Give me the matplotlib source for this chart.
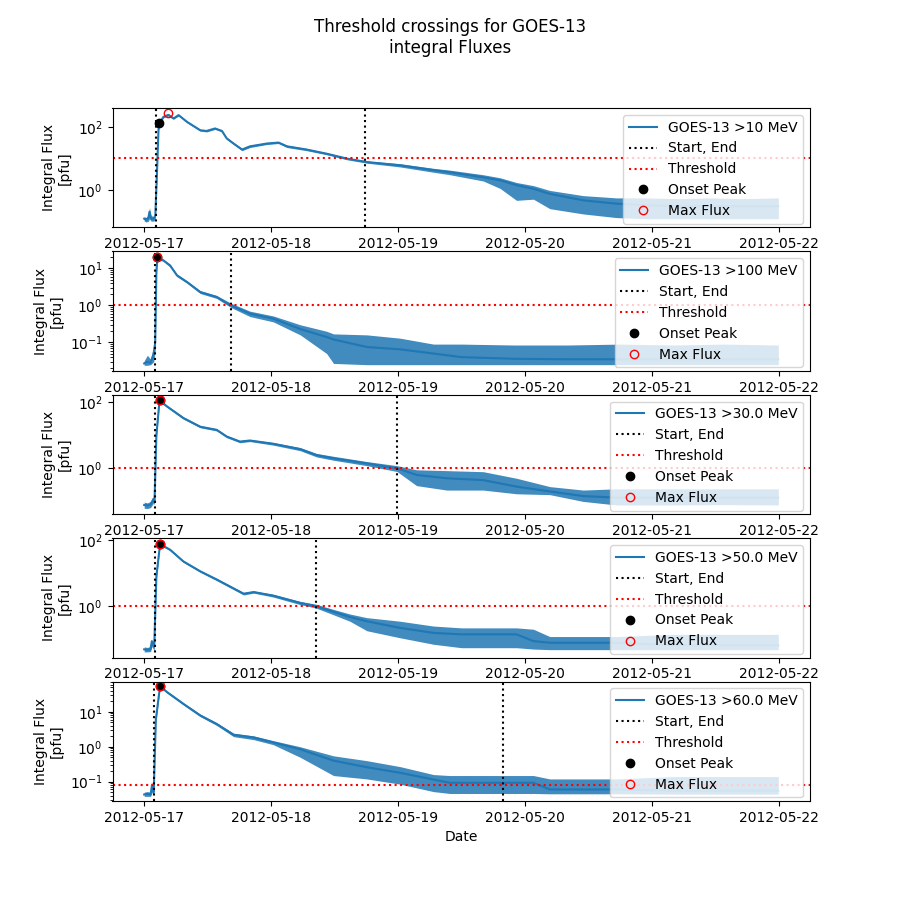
import numpy as np
import pandas as pd
import matplotlib
matplotlib.use("Agg")
import matplotlib.pyplot as plt
from matplotlib.ticker import LogLocator, NullLocator

# GOES-13 integral fluxes, hours after 2012-05-17 00:00
t0 = pd.Timestamp("2012-05-17 00:00")

labels = ["GOES-13 >10 MeV", "GOES-13 >100 MeV", "GOES-13 >30.0 MeV",
          "GOES-13 >50.0 MeV", "GOES-13 >60.0 MeV"]
thresholds = [10.0, 1.0, 1.0, 1.0, 0.078]
start_hr = [2.2, 2.05, 1.95, 2.0, 1.8]
end_hr = [41.7, 16.4, 47.8, 32.5, 67.9]
onset_hr = [2.83, 2.5, 2.9, 3.0, 3.0]
onset_flux = [129, 20, 112, 77, 55]
max_hr = [4.55, 2.5, 2.9, 3.0, 3.0]
max_flux = [268, 20, 112, 77, 55]
ylims = [(0.063, 398), (0.017, 29), (0.041, 166), (0.0275, 117), (0.028, 74)]
every_other_decade = [True, False, True, True, False]

# >10 MeV
p1_hr = [0, 0.4, 0.8, 1.0, 1.3, 1.8, 2.1, 2.4, 2.7, 2.83, 3.65, 4.55, 5.55, 6.5, 8.1,
         10.6, 11.8, 13.4, 14.7, 15.6, 16.9, 18.5, 20, 23.2, 25.4, 27, 30.7, 34.5,
         38.3, 42.1, 48.4, 54.7, 57.8, 64.1, 67.3, 70.4, 73.6, 76.7, 83, 89.3, 95,
         101, 107, 113, 119.9]
p1_mid = [0.12, 0.11, 0.13, 0.2, 0.12, 0.12, 0.15, 3.0, 80, 129, 209, 240, 185, 236,
          144, 78, 74, 89, 74, 43, 29.5, 19, 24, 29.5, 31.6, 24, 19, 14, 9.8, 7.6, 6.0,
          4.2, 3.6, 2.5, 2.0, 1.4, 1.07, 0.74, 0.46, 0.36, 0.32, 0.3, 0.3, 0.3, 0.3]
p1_lo = [0.10, 0.094, 0.10, 0.12, 0.10, 0.10, 0.12, 2.5, 70, 120, 195, 225, 175, 222,
         135, 73, 69, 83, 69, 40, 27.5, 17.5, 22, 27.5, 29.5, 22, 17.5, 13, 9.0, 7.0, 5.3,
         3.6, 3.0, 1.9, 1.1, 0.46, 0.5, 0.25, 0.17, 0.13, 0.12, 0.12, 0.12, 0.12, 0.12]
p1_hi = [0.14, 0.13, 0.16, 0.27, 0.15, 0.14, 0.18, 3.5, 88, 138, 222, 268, 198, 250,
         152, 83, 79, 95, 79, 46, 31.5, 20.5, 26, 31.5, 34, 26, 20.5, 15, 10.6, 8.2, 6.7,
         4.8, 4.2, 3.0, 2.4, 1.7, 1.35, 0.95, 0.65, 0.55, 0.55, 0.52, 0.55, 0.52, 0.55]

# >100 MeV
p2_hr = [0, 0.6, 1.2, 1.8, 2.08, 2.3, 2.5, 3.65, 4.9, 6.2, 8.1, 10.6, 13.7, 16.4, 20,
         24.4, 29.5, 34.5, 35.8, 42.1, 48.4, 54.7, 60, 70, 80, 90, 100, 110, 119.9]
p2_mid = [0.027, 0.03, 0.028, 0.05, 0.1, 8.0, 20, 16.5, 12, 6.5, 4.3, 2.3, 1.7, 1.0,
          0.6, 0.44, 0.23, 0.14, 0.12, 0.075, 0.065, 0.05, 0.04, 0.036, 0.035, 0.035,
          0.035, 0.035, 0.035]
p2_lo = [0.024, 0.024, 0.025, 0.03, 0.06, 6.5, 18, 15.5, 11, 6.0, 4.0, 2.1, 1.55, 0.88,
         0.5, 0.36, 0.16, 0.05, 0.027, 0.025, 0.025, 0.025, 0.025, 0.025, 0.025,
         0.025, 0.025, 0.025, 0.025]
p2_hi = [0.032, 0.045, 0.035, 0.083, 0.15, 9.5, 21, 17.5, 13, 7.0, 4.6, 2.5, 1.85, 1.15,
         0.7, 0.52, 0.3, 0.2, 0.17, 0.16, 0.13, 0.09, 0.09, 0.085, 0.085, 0.09, 0.085,
         0.09, 0.085]

# >30 MeV
p3_hr = [0, 0.6, 1.2, 1.76, 1.95, 2.3, 2.9, 4.3, 7.4, 10.6, 13.7, 15.6, 18.1, 20,
         24.4, 29.5, 32.6, 35.8, 42.1, 47.8, 51.5, 57.2, 64.1, 70.4, 76.7, 83, 89.3,
         100, 110, 119.9]
p3_mid = [0.078, 0.075, 0.08, 0.12, 0.1, 10, 112, 74, 33, 18, 14.5, 9.1, 6.4, 6.9,
          5.5, 3.8, 2.5, 2.0, 1.4, 1.0, 0.63, 0.5, 0.44, 0.28, 0.2, 0.145, 0.13, 0.13,
          0.13, 0.13]
p3_lo = [0.062, 0.061, 0.065, 0.09, 0.08, 8, 104, 69, 30.5, 16.7, 13.4, 8.4, 5.9, 6.4,
         5.0, 3.4, 2.2, 1.75, 1.2, 0.8, 0.3, 0.22, 0.22, 0.17, 0.16, 0.1, 0.078, 0.078,
         0.08, 0.078]
p3_hi = [0.095, 0.09, 0.1, 0.13, 0.12, 12, 114, 79, 35.5, 19.4, 15.6, 9.8, 6.9, 7.4, 6.0,
         4.2, 2.8, 2.3, 1.6, 1.2, 0.9, 0.85, 0.79, 0.5, 0.28, 0.22, 0.24, 0.24,
         0.24, 0.24]

# >50 MeV
p4_hr = [0, 0.6, 1.2, 1.45, 1.9, 2.3, 3.0, 4.9, 7.4, 10.6, 13.7, 18.8, 20.7, 24.4,
         29.5, 32.5, 35.8, 38.9, 42.1, 48.4, 54.7, 60, 70.4, 73.6, 76.7, 89.3, 100,
         110, 119.9]
p4_mid = [0.049, 0.047, 0.05, 0.087, 0.06, 8, 77, 52, 23, 11.5, 6.5, 2.4, 2.7, 2.1,
          1.26, 1.0, 0.68, 0.47, 0.35, 0.22, 0.155, 0.14, 0.14, 0.087, 0.078, 0.078,
          0.065, 0.065, 0.065]
p4_lo = [0.041, 0.041, 0.042, 0.06, 0.045, 6.5, 72, 48.5, 21.5, 10.7, 6.0, 2.2, 2.5, 1.9,
         1.12, 0.88, 0.55, 0.35, 0.18, 0.11, 0.07, 0.055, 0.055, 0.05, 0.048, 0.048,
         0.048, 0.048, 0.048]
p4_hi = [0.058, 0.056, 0.06, 0.09, 0.07, 9.5, 79, 55.5, 24.5, 12.3, 7.0, 2.6, 2.9, 2.3,
         1.4, 1.15, 0.8, 0.58, 0.45, 0.35, 0.25, 0.22, 0.22, 0.2, 0.12, 0.12, 0.14,
         0.14, 0.14]

# >60 MeV
p5_hr = [0, 0.6, 1.2, 1.5, 1.8, 2.2, 3.0, 4.3, 7.4, 10.6, 13.7, 16.9, 20.7, 24.4,
         29.5, 35.8, 42.1, 48.4, 54.7, 57.8, 65, 73.6, 76.7, 89.3, 100, 110, 119.9]
p5_mid = [0.043, 0.045, 0.043, 0.083, 0.05, 6, 55, 37, 17, 7.9, 4.5, 2.2, 1.85, 1.33,
          0.85, 0.4, 0.26, 0.18, 0.115, 0.093, 0.093, 0.093, 0.06, 0.06, 0.055,
          0.055, 0.055]
p5_lo = [0.038, 0.038, 0.038, 0.05, 0.04, 5, 51, 34.5, 15.8, 7.3, 4.1, 1.95, 1.6, 1.15,
         0.5, 0.15, 0.12, 0.085, 0.052, 0.046, 0.046, 0.046, 0.045, 0.045, 0.044,
         0.044, 0.044]
p5_hi = [0.05, 0.052, 0.05, 0.09, 0.06, 7, 57, 39.5, 18.3, 8.6, 4.9, 2.45, 2.05, 1.5, 1.0,
         0.55, 0.4, 0.27, 0.16, 0.15, 0.15, 0.15, 0.12, 0.12, 0.14, 0.14, 0.14]

series = [(p1_hr, p1_mid, p1_lo, p1_hi), (p2_hr, p2_mid, p2_lo, p2_hi),
          (p3_hr, p3_mid, p3_lo, p3_hi), (p4_hr, p4_mid, p4_lo, p4_hi),
          (p5_hr, p5_mid, p5_lo, p5_hi)]


def to_dates(hours):
    return t0 + pd.to_timedelta(np.asarray(hours, dtype=float), unit="h")


fig, axes = plt.subplots(5, 1, figsize=(9, 9))
fig.suptitle("Threshold crossings for GOES-13\nintegral Fluxes")

for i, ax in enumerate(axes):
    hr, mid, lo, hi = series[i]
    dates = to_dates(hr)
    # noise envelope around the flux
    ax.fill_between(dates, lo, hi, color="C0", lw=0, alpha=0.85)
    ax.plot(dates, mid, color="C0", label=labels[i])
    ax.axvline(to_dates([start_hr[i]])[0], color="black", linestyle=":",
               label="Start, End")
    ax.axvline(to_dates([end_hr[i]])[0], color="black", linestyle=":")
    ax.axhline(thresholds[i], color="red", linestyle=":", label="Threshold")
    ax.plot(to_dates([onset_hr[i]]), [onset_flux[i]], "o", color="black",
            label="Onset Peak")
    ax.plot(to_dates([max_hr[i]]), [max_flux[i]], "o", markerfacecolor="none",
            markeredgecolor="red", label="Max Flux")
    ax.set_yscale("log")
    ax.set_ylim(*ylims[i])
    if every_other_decade[i]:
        ax.yaxis.set_major_locator(LogLocator(base=100))
        ax.yaxis.set_minor_locator(NullLocator())
    ax.set_ylabel("Integral Flux\n[pfu]")
    ax.legend(loc="upper right")

axes[-1].set_xlabel("Date")

plt.savefig("out.png", dpi=100)
